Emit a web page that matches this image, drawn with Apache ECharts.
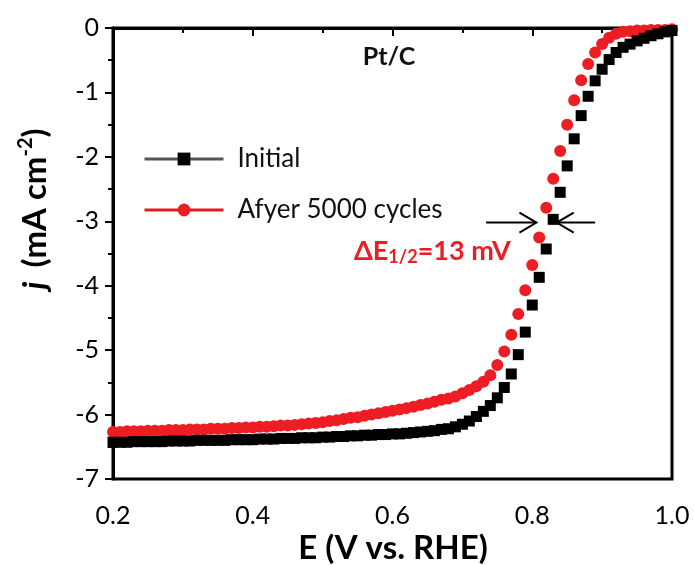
<!DOCTYPE html>
<html>
<head>
<meta charset="utf-8">
<script src="https://cdn.jsdelivr.net/npm/echarts@6/dist/echarts.min.js"></script>
<style>
html, body { margin: 0; padding: 0; background: #fff; }
#chart { width: 694px; height: 565px; }
</style>
</head>
<body>
<div id="chart"></div>
<script>
// potential (V vs. RHE)
var potential = [
    0.20, 0.21, 0.22, 0.23, 0.24, 0.25, 0.26, 0.27, 0.28, 0.29,
    0.30, 0.31, 0.32, 0.33, 0.34, 0.35, 0.36, 0.37, 0.38, 0.39,
    0.40, 0.41, 0.42, 0.43, 0.44, 0.45, 0.46, 0.47, 0.48, 0.49,
    0.50, 0.51, 0.52, 0.53, 0.54, 0.55, 0.56, 0.57, 0.58, 0.59,
    0.60, 0.61, 0.62, 0.63, 0.64, 0.65, 0.66, 0.67, 0.68, 0.69,
    0.70, 0.71, 0.72, 0.73, 0.74, 0.75, 0.76, 0.77, 0.78, 0.79,
    0.80, 0.81, 0.82, 0.83, 0.84, 0.85, 0.86, 0.87, 0.88, 0.89,
    0.90, 0.91, 0.92, 0.93, 0.94, 0.95, 0.96, 0.97, 0.98, 0.99,
    1.00
];
// current density, initial
var initialJ = [
    -6.43, -6.43, -6.43, -6.42, -6.42, -6.42, -6.42, -6.42, -6.41, -6.41,
    -6.41, -6.41, -6.40, -6.40, -6.40, -6.40, -6.40, -6.39, -6.39, -6.39,
    -6.39, -6.38, -6.38, -6.38, -6.37, -6.37, -6.37, -6.36, -6.36, -6.36,
    -6.35, -6.35, -6.34, -6.34, -6.33, -6.33, -6.32, -6.32, -6.31, -6.31,
    -6.30, -6.30, -6.29, -6.28, -6.27, -6.26, -6.25, -6.23, -6.22, -6.19,
    -6.15, -6.10, -6.03, -5.95, -5.86, -5.74, -5.58, -5.37, -5.07, -4.72,
    -4.30, -3.87, -3.43, -2.97, -2.55, -2.14, -1.72, -1.36, -1.06, -0.82,
    -0.64, -0.49, -0.38, -0.30, -0.25, -0.20, -0.16, -0.12, -0.09, -0.06,
    -0.04
];
// current density, after 5000 cycles
var cycledJ = [
    -6.27, -6.27, -6.26, -6.26, -6.26, -6.25, -6.25, -6.25, -6.24, -6.24,
    -6.24, -6.23, -6.23, -6.23, -6.22, -6.22, -6.22, -6.21, -6.21, -6.20,
    -6.20, -6.19, -6.19, -6.18, -6.17, -6.17, -6.16, -6.15, -6.14, -6.13,
    -6.12, -6.10, -6.09, -6.07, -6.05, -6.04, -6.02, -6.00, -5.98, -5.96,
    -5.94, -5.92, -5.90, -5.88, -5.85, -5.83, -5.80, -5.77, -5.75, -5.72,
    -5.67, -5.62, -5.56, -5.49, -5.39, -5.23, -5.02, -4.76, -4.44, -4.07,
    -3.68, -3.25, -2.79, -2.34, -1.91, -1.50, -1.12, -0.81, -0.56, -0.38,
    -0.25, -0.15, -0.09, -0.06, -0.05, -0.04, -0.04, -0.03, -0.03, -0.03,
    -0.02
];
var seriesNames = ['Initial', 'Afyer 5000 cycles'];
var arrowLeft = [0.734, 0.806];   // shaft start, tip
var arrowRight = [0.890, 0.835];
var arrowJ = -3.02;

var font = 'Lato, "Open Sans", sans-serif';

function pairs(xs, ys) {
    var out = [];
    for (var i = 0; i < xs.length; i++) {
        out.push([xs[i], ys[i]]);
    }
    return out;
}

var chart = echarts.init(document.getElementById('chart'));

var option = {
    animation: false,
    textStyle: { fontFamily: font },
    grid: {
        left: 113, right: 22, top: 28, bottom: 86,
        show: true, borderColor: '#000', borderWidth: 3
    },
    legend: {
        orient: 'vertical',
        left: 138, top: 141,
        itemWidth: 79, itemHeight: 16,
        itemGap: 25,
        data: [
            { name: seriesNames[0], lineStyle: { width: 3, color: '#555' } },
            { name: seriesNames[1], lineStyle: { width: 3, color: '#d81e1e' } }
        ],
        textStyle: { fontSize: 26, color: '#111', padding: [0, 0, 0, 9], fontFamily: font }
    },
    xAxis: {
        type: 'value',
        min: 0.2, max: 1.0, interval: 0.2,
        splitLine: { show: false },
        axisLine: { lineStyle: { color: '#000', width: 3 } },
        axisTick: { inside: false, length: 8, lineStyle: { width: 2, color: '#000' } },
        minorTick: { show: true, splitNumber: 2, length: 5, lineStyle: { width: 2, color: '#000' } },
        axisLabel: {
            color: '#000', fontSize: 25, margin: 24,
            formatter: function (v) { return v.toFixed(1); }
        }
    },
    yAxis: {
        type: 'value',
        min: -7, max: 0, interval: 1,
        splitLine: { show: false },
        axisLine: { lineStyle: { color: '#000', width: 3 } },
        axisTick: { inside: false, length: 8, lineStyle: { width: 2, color: '#000' } },
        minorTick: { show: true, splitNumber: 2, length: 5, lineStyle: { width: 2, color: '#000' } },
        axisLabel: { color: '#000', fontSize: 25, margin: 14 }
    },
    series: [
        {
            type: 'line',
            name: seriesNames[1],
            data: pairs(potential, cycledJ),
            symbol: 'circle',
            symbolSize: 12,
            itemStyle: { color: '#ee1d23' },
            lineStyle: { width: 0, color: '#d81e1e' },
            z: 2
        },
        {
            type: 'line',
            name: seriesNames[0],
            data: pairs(potential, initialJ),
            symbol: 'rect',
            symbolSize: 11,
            itemStyle: { color: '#000' },
            lineStyle: { width: 0, color: '#555' },
            z: 3
        }
    ]
};
chart.setOption(option);

// annotations: arrows placed through the axis scales
function arrow(x0, x1, y) {
    var a = chart.convertToPixel({ gridIndex: 0 }, [x0, y]);
    var b = chart.convertToPixel({ gridIndex: 0 }, [x1, y]);
    var dir = b[0] > a[0] ? 1 : -1;
    var st = { stroke: '#000', lineWidth: 2, fill: null };
    return [
        { type: 'line', shape: { x1: a[0], y1: a[1], x2: b[0], y2: b[1] }, style: st, z: 10 },
        { type: 'polyline', shape: { points: [[b[0] - dir * 17, b[1] - 10], [b[0], b[1]], [b[0] - dir * 17, b[1] + 10]] }, style: st, z: 10 }
    ];
}

var graphics = [].concat(arrow(arrowLeft[0], arrowLeft[1], arrowJ), arrow(arrowRight[0], arrowRight[1], arrowJ));
graphics.push({
    type: 'text', x: 389, y: 57, z: 10,
    style: { text: 'Pt/C', font: 'bold 25px ' + font, fill: '#111', align: 'center', verticalAlign: 'middle' }
});
graphics.push({
    type: 'text', x: 354, y: 251, z: 10,
    style: {
        text: '{a|\u0394E}{s|1/2}{a|=13 mV}',
        align: 'left', verticalAlign: 'middle',
        rich: {
            a: { fontSize: 27, fontFamily: font, fontWeight: 'bold', fill: '#ee1d23', lineHeight: 30 },
            s: { fontSize: 18, fontFamily: font, fontWeight: 'bold', fill: '#ee1d23', verticalAlign: 'bottom', lineHeight: 30 }
        }
    }
});
graphics.push({
    type: 'text', x: 393, y: 548, z: 10,
    style: { text: 'E (V vs. RHE)', font: 'bold 33px ' + font, fill: '#000', align: 'center', verticalAlign: 'middle' }
});
graphics.push({
    type: 'text', x: 35, y: 209, z: 10, rotation: Math.PI / 2,
    style: {
        text: '{j|j}{a| (mA cm}{s|-2}{a|)}',
        align: 'center', verticalAlign: 'middle',
        rich: {
            j: { fontSize: 33, fontFamily: font, fontWeight: 'bold', fontStyle: 'italic', fill: '#000', lineHeight: 38, padding: [0, 6, 0, 0] },
            a: { fontSize: 33, fontFamily: font, fontWeight: 'bold', fill: '#000', lineHeight: 38 },
            s: { fontSize: 20, fontFamily: font, fontWeight: 'bold', fill: '#000', verticalAlign: 'top', lineHeight: 38 }
        }
    }
});
chart.setOption({ graphic: graphics });
</script>
</body>
</html>
